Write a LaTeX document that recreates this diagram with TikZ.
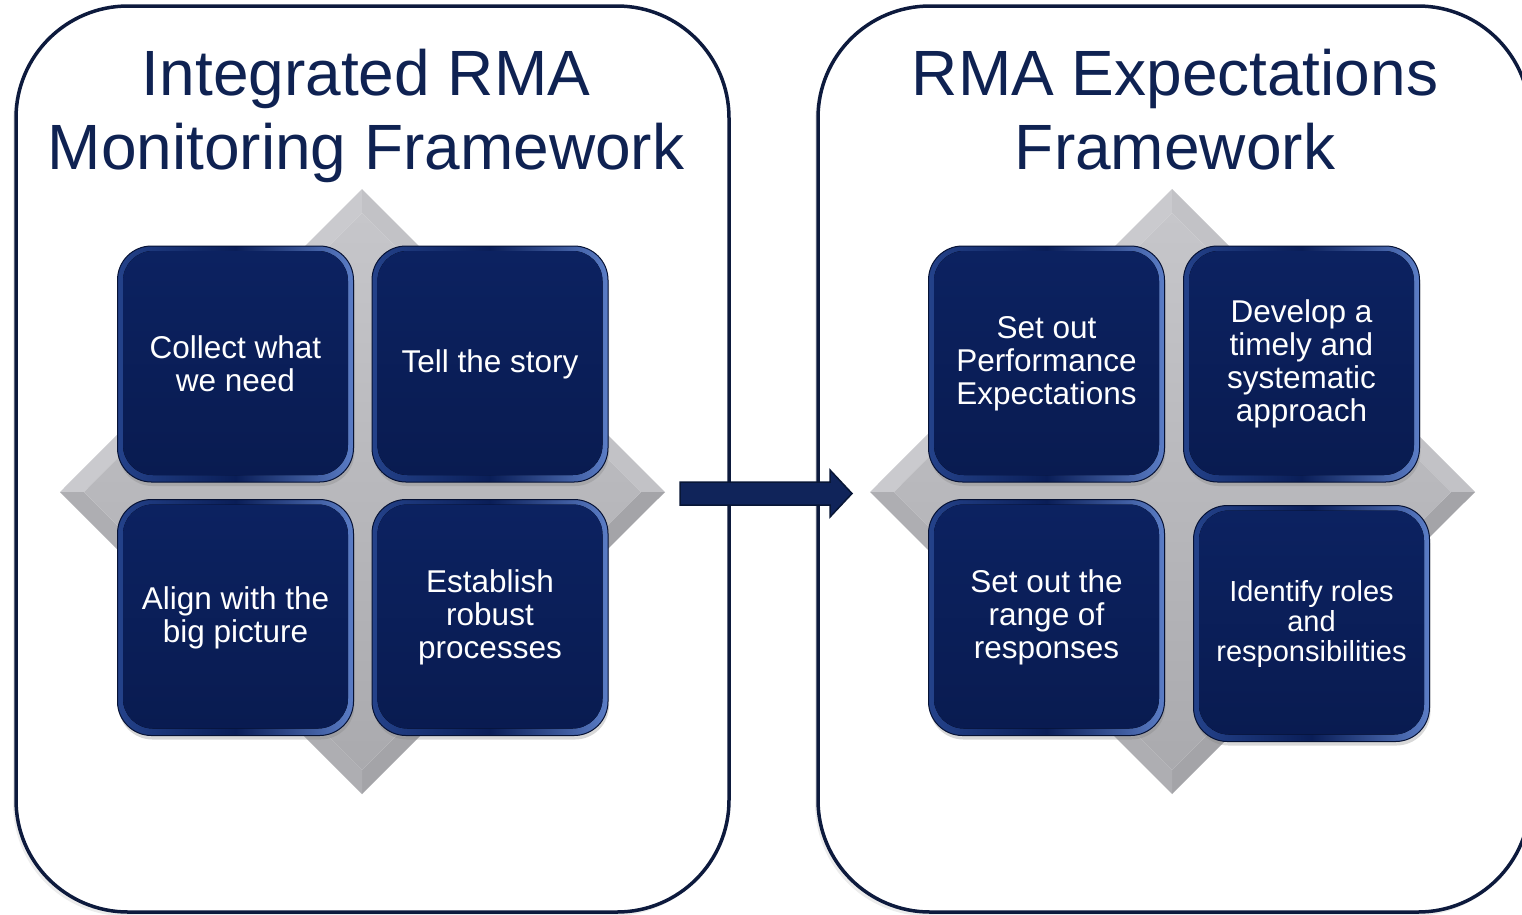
\documentclass[tikz,border=0pt]{standalone}
\usepackage{fontspec}
\setmainfont{Liberation Sans}
\usetikzlibrary{shadows,calc}
\definecolor{titlenavy}{HTML}{0F2252}
\definecolor{framenavy}{HTML}{0D1A3D}
\definecolor{tilenavy}{HTML}{0A1E58}
\definecolor{tiletop}{HTML}{0C2261}
\definecolor{tilebot}{HTML}{091B50}
\definecolor{rimL}{HTML}{24428A}
\definecolor{rimR}{HTML}{5B7DC6}
\definecolor{tileedge}{HTML}{061235}
\definecolor{arrowfill}{HTML}{10245A}
\definecolor{arrowedge}{HTML}{081636}
\definecolor{dTL}{HTML}{CACACE}
\definecolor{dTR}{HTML}{C2C2C6}
\definecolor{dBR}{HTML}{A4A4A8}
\definecolor{dBL}{HTML}{AEAEB2}
\definecolor{dInTop}{HTML}{C6C6CA}
\definecolor{dInBot}{HTML}{AAAAAE}
\tikzset{
  frame/.style={draw=framenavy, line width=3.5pt, fill=white, rounded corners=112pt,
    inner sep=0pt, minimum height=906pt,
    drop shadow={shadow xshift=-3pt, shadow yshift=-4pt, opacity=.15}},
  titletext/.style={text=titlenavy, align=center, inner sep=0pt,
    font=\fontsize{64}{74}\selectfont},
  tile/.style={rounded corners=34pt, minimum width=236pt, minimum height=236pt,
    inner sep=0pt, text=white, align=center,
    font=\fontsize{31.5}{33}\selectfont,
    draw=tileedge, line width=1pt,
    left color=rimL, right color=rimR, middle color=tilenavy,
    drop shadow={shadow xshift=1pt, shadow yshift=-4pt, opacity=.3},
    path picture={\fill[rounded corners=30pt, top color=tiletop, bottom color=tilebot]
      ([shift={(5.5pt,-5pt)}]path picture bounding box.north west) rectangle
      ([shift={(-5.5pt,7pt)}]path picture bounding box.south east);}},
  smalltile/.style={tile, font=\fontsize{29}{30}\selectfont}
}
\newcommand\mydiamond[2]{%
  \begin{scope}[shift={(#1,#2)}]
    \fill[dTL] (-302,0) -- (0,-303) -- (0,-279) -- (-278,0) -- cycle;
    \fill[dTR] (0,-303) -- (303,0) -- (279,0) -- (0,-279) -- cycle;
    \fill[dBR] (303,0) -- (0,302) -- (0,278) -- (279,0) -- cycle;
    \fill[dBL] (0,302) -- (-302,0) -- (-278,0) -- (0,278) -- cycle;
    \shade[top color=dInTop, bottom color=dInBot] (-278,0) -- (0,-279) -- (279,0) -- (0,278) -- cycle;
  \end{scope}}
\begin{document}
\begin{tikzpicture}[x=1pt,y=-1pt]
\clip (0,0) rectangle (1522,914);
\useasboundingbox (0,0) rectangle (1522,914);

% frames
\node[frame, minimum width=713pt] (frameL) at (372.5,459) {};
\node[frame, minimum width=712pt] (frameR) at (1174,459) {};

% titles
\node[titletext] (titleL) at (366,116) {Integrated RMA\\Monitoring Framework};
\node[titletext] (titleR) at (1175,110) {RMA Expectations\\Framework};

% diamonds
\mydiamond{362}{492}
\mydiamond{1172}{492}

% left tiles
\node[tile] (collect) at (235.5,364) {Collect what\\we need};
\node[tile] (story) at (490,364) {Tell the story};
\node[tile] (align) at (235.5,617.5) {Align with the\\big picture};
\node[tile] (establish) at (490,617.5) {Establish\\robust\\processes};

% right tiles
\node[tile] (perf) at (1046.5,364) {Set out\\Performance\\Expectations};
\node[tile] (develop) at (1301.5,364) {Develop a\\timely and\\systematic\\approach};
\node[tile] (range) at (1046.5,617.5) {Set out the\\range of\\responses};
\node[smalltile] (roles) at (1311.5,623.5) {Identify roles\\and\\responsibilities};

% arrow
\coordinate (aS) at (680,493.5);
\coordinate (aE) at (852,493.5);
\draw[fill=arrowfill, draw=arrowedge, line width=1.5pt, line join=miter]
  ($(aS)+(0,-11.5)$) -- ($(aE)+(-22,-11.5)$) -- ($(aE)+(-22,-23.5)$) -- (aE)
  -- ($(aE)+(-22,23.5)$) -- ($(aE)+(-22,11.5)$) -- ($(aS)+(0,11.5)$) -- cycle;
\end{tikzpicture}
\end{document}
